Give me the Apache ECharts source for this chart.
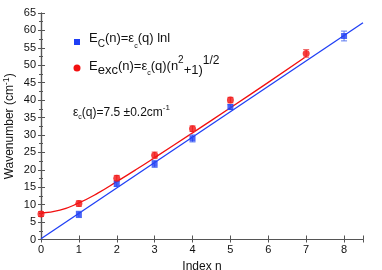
<!DOCTYPE html>
<html><head><meta charset="utf-8">
<script src="https://cdn.jsdelivr.net/npm/echarts@6/dist/echarts.min.js"></script>
<style>html,body{margin:0;padding:0;background:#fff}#c{width:382px;height:270px}</style>
</head><body><div id="c"></div>
<script>
var nBlue = [1, 2, 3, 4, 5, 8];
var eBlue = [7.2, 16.0, 21.7, 29.0, 38.0, 58.4];
var errBlue = [0.9, 0.8, 1.0, 1.0, 0.7, 1.4];
var nRed = [0, 1, 2, 3, 4, 5, 7];
var eRed = [7.3, 10.3, 17.6, 24.2, 31.8, 40.0, 53.4];
var errRed = [0.7, 0.8, 0.8, 0.9, 0.8, 0.8, 1.1];
var fitBlueN = [0, 8.5];
var fitBlueE = [0.2, 62.2];
var fitRedN = [0, 0.5, 1, 1.5, 2, 2.5, 3, 4, 5, 6, 7];
var fitRedE = [7.6, 8.4, 10.5, 13.3, 16.6, 20.0, 23.5, 30.6, 37.8, 45.1, 52.5];
var xTicks = [0, 1, 2, 3, 4, 5, 6, 7, 8];
var yTicks = [0, 5, 10, 15, 20, 25, 30, 35, 40, 45, 50, 55, 60, 65];

function zip(a, b) { return a.map(function (v, i) { return [v, b[i]]; }); }
function errData(n, e, d) { return n.map(function (v, i) { return [v, e[i] - d[i], e[i] + d[i]]; }); }
function errSeries(data, color) {
  return {
    type: 'custom', data: data, z: 3,
    renderItem: function (params, api) {
      var lo = api.coord([api.value(0), api.value(1)]);
      var hi = api.coord([api.value(0), api.value(2)]);
      var w = 3;
      var st = { stroke: color, lineWidth: 1 };
      return { type: 'group', children: [
        { type: 'line', shape: { x1: lo[0], y1: lo[1], x2: hi[0], y2: hi[1] }, style: st },
        { type: 'line', shape: { x1: lo[0] - w, y1: lo[1], x2: lo[0] + w, y2: lo[1] }, style: st },
        { type: 'line', shape: { x1: hi[0] - w, y1: hi[1], x2: hi[0] + w, y2: hi[1] }, style: st }
      ]};
    }
  };
}
var blue = '#1f3ff5', red = '#f21010';
var axisCol = '#555';
var font = 'Liberation Sans, Arial, sans-serif';
var chart = echarts.init(document.getElementById('c'));
chart.setOption({
  animation: false,
  grid: { left: 41, right: 19, top: 13, bottom: 30.5, containLabel: false, outerBoundsMode: 'none' },
  xAxis: [{
    type: 'value', min: 0, max: 8.5, interval: 1,
    axisLine: { show: true, onZero: false, lineStyle: { color: axisCol, width: 1.2 } },
    axisTick: { inside: true, length: 4, lineStyle: { color: axisCol } },
    axisLabel: { color: '#111', fontSize: 11, fontFamily: font, margin: 5,
      formatter: function (v) { return xTicks.indexOf(v) >= 0 ? String(v) : ''; } },
    splitLine: { show: false },
    name: 'Index n', nameLocation: 'middle', nameGap: 20,
    nameTextStyle: { fontSize: 12, color: '#111', fontFamily: font }
  }, {
    type: 'value', min: 0, max: 8.5, interval: 1, position: 'top',
    axisLine: { show: true, lineStyle: { color: axisCol, width: 1.2 } },
    axisTick: { inside: true, length: 3, lineStyle: { color: axisCol } },
    axisLabel: { show: false }, splitLine: { show: false }
  }],
  yAxis: [{
    type: 'value', min: 0, max: 65, interval: 5,
    axisLine: { show: true, lineStyle: { color: axisCol, width: 1.2 } },
    axisTick: { inside: true, length: 4, lineStyle: { color: axisCol } },
    minorTick: { show: true, splitNumber: 2, length: 2, lineStyle: { color: axisCol } },
    axisLabel: { color: '#111', fontSize: 11, fontFamily: font, margin: 5,
      formatter: function (v) { return yTicks.indexOf(v) >= 0 ? String(v) : ''; } },
    splitLine: { show: false },
    name: 'Wavenumber (cm{sup|-1})', nameLocation: 'middle', nameGap: 23, nameMoveOverlap: false,
    nameTextStyle: { fontSize: 12, color: '#111', fontFamily: font,
      rich: { sup: { fontSize: 9, verticalAlign: 'top', lineHeight: 16, color: '#111', fontFamily: font } } }
  }, {
    type: 'value', min: 0, max: 65, interval: 5, position: 'right',
    axisLine: { show: true, lineStyle: { color: axisCol, width: 1.2 } },
    axisTick: { inside: true, length: 3, lineStyle: { color: axisCol } },
    minorTick: { show: true, splitNumber: 2, length: 2, lineStyle: { color: axisCol } },
    axisLabel: { show: false }, splitLine: { show: false }
  }],
  series: [
    { type: 'line', data: zip(fitBlueN, fitBlueE), showSymbol: false, symbol: 'none',
      lineStyle: { color: blue, width: 1.3 }, z: 2 },
    { type: 'line', data: zip(fitRedN, fitRedE), showSymbol: false, symbol: 'none', smooth: true,
      lineStyle: { color: red, width: 1.3 }, z: 2 },
    errSeries(errData(nBlue, eBlue, errBlue), '#5a78f0'),
    errSeries(errData(nRed, eRed, errRed), '#f06060'),
    { type: 'scatter', data: zip(nBlue, eBlue), symbol: 'rect', symbolSize: 6,
      itemStyle: { color: blue }, z: 4 },
    { type: 'scatter', data: zip(nRed, eRed), symbol: 'circle', symbolSize: 7,
      itemStyle: { color: red }, z: 4 }
  ],
  graphic: [
    { type: 'rect', shape: { x: 74, y: 39, width: 6, height: 6 }, style: { fill: blue } },
    { type: 'circle', shape: { cx: 77, cy: 68, r: 3.5 }, style: { fill: red } },
    { type: 'text', left: 89, top: 32, style: {
      text: 'E{sub|C}(n)=ε{sub2|c}(q) lnl', fill: '#111', font: '13px ' + font,
      rich: { sub: { fontSize: 10, verticalAlign: 'bottom', lineHeight: 22, fill: '#111' },
              sub2: { fontSize: 7, verticalAlign: 'bottom', lineHeight: 18, fill: '#111' } } } },
    { type: 'text', left: 89, top: 55, style: {
      text: 'E{sub|exc}(n)=ε{sub2|c}(q)(n{sup|2}{low|+1)}{sup2|1/2}', fill: '#111', font: '13px ' + font,
      rich: { sub: { fontSize: 13, verticalAlign: 'bottom', lineHeight: 22, fill: '#111' },
              sub2: { fontSize: 7, verticalAlign: 'bottom', lineHeight: 18, fill: '#111' },
              low: { fontSize: 13, verticalAlign: 'bottom', lineHeight: 20, fill: '#111' },
              sup: { fontSize: 10, verticalAlign: 'top', lineHeight: 18, fill: '#111' },
              sup2: { fontSize: 12, verticalAlign: 'top', lineHeight: 16, fill: '#111' } } } },
    { type: 'text', left: 73, top: 104, style: {
      text: 'ε{sub|c}(q)=7.5 ±0.2cm{sup|-1}', fill: '#111', font: '12px ' + font,
      rich: { sub: { fontSize: 7, verticalAlign: 'bottom', lineHeight: 17, fill: '#111' },
              sup: { fontSize: 8, verticalAlign: 'top', lineHeight: 17, fill: '#111' } } } }
  ]
});
</script></body></html>
